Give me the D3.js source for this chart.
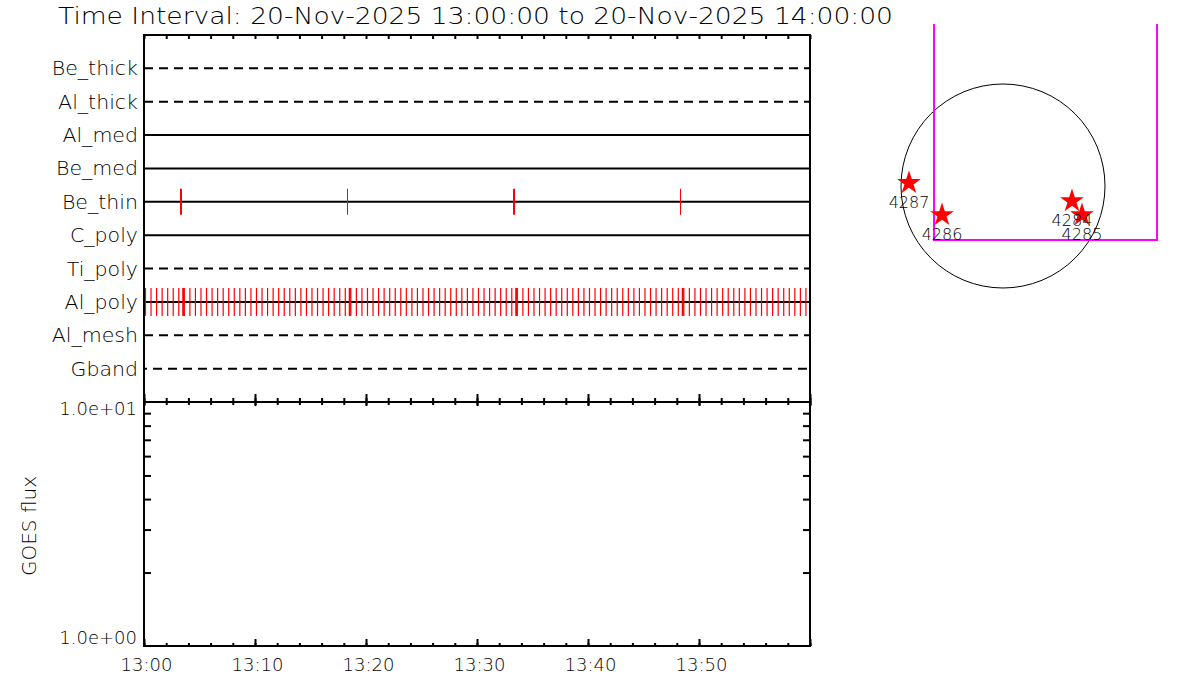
<!DOCTYPE html>
<html>
<head>
<meta charset="utf-8">
<script src="https://cdn.jsdelivr.net/npm/d3@7"></script>
<style>
  html, body { margin: 0; padding: 0; background: #fff; }
  svg { display: block; }
  text { font-family: "DejaVu Sans", sans-serif; font-weight: 200; fill: #000; }
</style>
</head>
<body>
<svg id="chart" width="1200" height="700"></svg>
<script>
// ---------------- data ----------------
const titleText = "Time Interval: 20-Nov-2025 13:00:00 to 20-Nov-2025 14:00:00";
const channels = ["Be_thick", "Al_thick", "Al_med", "Be_med", "Be_thin", "C_poly", "Ti_poly", "Al_poly", "Al_mesh", "Gband"];
const channelDashed = [true, true, false, false, false, false, true, false, true, true];
const channelDashOffset = [0, 0, 0, 0, 0, 0, 0, 0, 0, 6];

// exposure times, seconds after 13:00:00 UT
const beThinTimes = [200, 1100, 2000, 2900];
const beThinWidths = [2, 1, 2, 1];
const alPolyTimes = [
  8, 38, 68, 98, 128, 158, 188, 218, 248, 278,
  308, 338, 368, 398, 428, 458, 488, 518, 548, 578,
  608, 638, 668, 698, 728, 758, 788, 818, 848, 878,
  908, 938, 968, 998, 1028, 1058, 1088, 1118, 1148, 1178,
  1208, 1238, 1268, 1298, 1328, 1358, 1388, 1418, 1448, 1478,
  1508, 1538, 1568, 1598, 1628, 1658, 1688, 1718, 1748, 1778,
  1808, 1838, 1868, 1898, 1928, 1958, 1988, 2018, 2048, 2078,
  2108, 2138, 2168, 2198, 2228, 2258, 2288, 2318, 2348, 2378,
  2408, 2438, 2468, 2498, 2528, 2558, 2588, 2618, 2648, 2678,
  2708, 2738, 2768, 2798, 2828, 2858, 2888, 2918, 2948, 2978,
  3008, 3038, 3068, 3098, 3128, 3158, 3188, 3218, 3248, 3278,
  3308, 3338, 3368, 3398, 3428, 3458, 3488, 3518, 3548, 3578
];
const alPolyExtraTimes = [212, 1112, 2012, 2912];

const xTickLabels = ["13:00", "13:10", "13:20", "13:30", "13:40", "13:50"];
const goesRange = [1, 10];
const goesMinorTicks = [2, 3, 4, 5, 6, 7, 8, 9];
const goesLabel = "GOES flux";

// solar context map (arcsec, disk centre at 0,0)
const solarRadius = 970;
const fovBox = { x0: -656, x1: 1465, y0: -514, y1: 1541 };
const regionNames = ["4287", "4286", "4284", "4285"];
const regionX = [-894, -580, 656, 751];
const regionY = [29, -276, -143, -276];

// ---------------- layout ----------------
const svg = d3.select("#chart");
const L = 144, R = 810, T1 = 35, B1 = 402, B2 = 646;
const t0 = Date.UTC(2025, 10, 20, 13, 0, 0);
const tDate = s => new Date(t0 + s * 1000);
const x = d3.scaleUtc().domain([tDate(0), tDate(3600)]).range([L, R]);
const yRow = d3.scalePoint().domain(channels).range([T1, B1]).padding(1);
const yFlux = d3.scaleLog().domain(goesRange).range([B2, B1]);

const parseHM = d3.utcParse("%Y-%m-%d %H:%M");
const labelDates = xTickLabels.map(s => parseHM("2025-11-20 " + s));
const majorDates = d3.range(0, 3601, 600).map(tDate);
const minorDates = d3.range(0, 3601, 120).map(tDate);

// title
svg.append("text")
  .attr("x", 58).attr("y", 24)
  .attr("font-size", 23)
  .attr("textLength", 835).attr("lengthAdjust", "spacingAndGlyphs")
  .text(titleText);

// ---------- top panel: channel rows ----------
const rows = svg.append("g");
rows.selectAll("line.row").data(channels).join("line")
  .attr("x1", L).attr("x2", R)
  .attr("y1", d => yRow(d)).attr("y2", d => yRow(d))
  .attr("stroke", "#000").attr("stroke-width", 2)
  .attr("stroke-dasharray", (d, i) => channelDashed[i] ? "9,6" : null)
  .attr("stroke-dashoffset", (d, i) => channelDashOffset[i]);

rows.selectAll("text.rowlab").data(channels).join("text")
  .attr("x", 138).attr("y", d => yRow(d) + 7)
  .attr("text-anchor", "end").attr("font-size", 19)
  .attr("transform", d => `translate(${138 * -0.08},0) scale(1.08,1)`)
  .text(d => d);

// exposure ticks
svg.append("g").selectAll("line").data(alPolyTimes).join("line")
  .attr("x1", d => x(tDate(d))).attr("x2", d => x(tDate(d)))
  .attr("y1", yRow("Al_poly") - 14).attr("y2", yRow("Al_poly") + 14)
  .attr("stroke", "#ff0000").attr("stroke-width", 1.2);
svg.append("g").selectAll("line").data(alPolyExtraTimes).join("line")
  .attr("x1", d => x(tDate(d))).attr("x2", d => x(tDate(d)))
  .attr("y1", yRow("Al_poly") - 14).attr("y2", yRow("Al_poly") + 14)
  .attr("stroke", "#ff0000").attr("stroke-width", 2);
svg.append("g").selectAll("line").data(beThinTimes).join("line")
  .attr("x1", d => x(tDate(d))).attr("x2", d => x(tDate(d)))
  .attr("y1", yRow("Be_thin") - 13).attr("y2", yRow("Be_thin") + 13)
  .attr("stroke", "#ff0000").attr("stroke-width", (d, i) => beThinWidths[i]);

// ---------- axes ----------
function styleAxis(g) {
  g.select(".domain").remove();
  g.selectAll(".tick line").attr("stroke", "#000").attr("stroke-width", 2);
  g.selectAll(".tick text").remove();
}
// top panel top axis
svg.append("g").attr("transform", `translate(0,${T1})`)
  .call(d3.axisBottom(x).tickValues(minorDates).tickSize(4)).call(styleAxis);
// top panel bottom axis (pointing up)
svg.append("g").attr("transform", `translate(0,${B1})`)
  .call(d3.axisTop(x).tickValues(minorDates).tickSize(4)).call(styleAxis);
svg.append("g").attr("transform", `translate(0,${B1})`)
  .call(d3.axisTop(x).tickValues(majorDates).tickSize(8)).call(styleAxis);
// bottom panel top axis (pointing down)
svg.append("g").attr("transform", `translate(0,${B1})`)
  .call(d3.axisBottom(x).tickValues(minorDates).tickSize(3)).call(styleAxis);
svg.append("g").attr("transform", `translate(0,${B1})`)
  .call(d3.axisBottom(x).tickValues(majorDates).tickSize(4)).call(styleAxis);
// bottom panel bottom axis
svg.append("g").attr("transform", `translate(0,${B2})`)
  .call(d3.axisTop(x).tickValues(minorDates).tickSize(3)).call(styleAxis);
svg.append("g").attr("transform", `translate(0,${B2})`)
  .call(d3.axisTop(x).tickValues(majorDates).tickSize(7)).call(styleAxis);
// x labels
const xl = svg.append("g").attr("transform", `translate(0,${B2})`)
  .call(d3.axisBottom(x).tickValues(labelDates).tickSize(0).tickPadding(12)
    .tickFormat(d3.utcFormat("%H:%M")));
xl.select(".domain").remove();
xl.selectAll("text").attr("font-size", 18).attr("font-family", "DejaVu Sans")
  .attr("fill", "#000").attr("dx", 2);

// flux axes
svg.append("g").attr("transform", `translate(${L},0)`)
  .call(d3.axisRight(yFlux).tickValues(goesMinorTicks).tickSize(7)).call(styleAxis);
svg.append("g").attr("transform", `translate(${R},0)`)
  .call(d3.axisLeft(yFlux).tickValues(goesMinorTicks).tickSize(7)).call(styleAxis);
const fmtE = v => {
  const e = Math.floor(Math.log10(v) + 1e-9);
  return (v / Math.pow(10, e)).toFixed(1) + "e" + (e < 0 ? "-" : "+") + String(Math.abs(e)).padStart(2, "0");
};
const yl = svg.append("g").attr("transform", `translate(${L},0)`)
  .call(d3.axisLeft(yFlux).tickValues(goesRange).tickSize(0).tickPadding(7).tickFormat(fmtE));
yl.select(".domain").remove();
yl.selectAll("text").attr("font-size", 18).attr("font-family", "DejaVu Sans").attr("fill", "#000")
  .attr("dy", d => d === goesRange[1] ? "0.7em" : "-0.15em");

svg.append("text")
  .attr("transform", `translate(36,${(B1 + B2) / 2 + 2}) rotate(-90)`)
  .attr("text-anchor", "middle").attr("font-size", 19)
  .attr("textLength", 100).attr("lengthAdjust", "spacingAndGlyphs")
  .text(goesLabel);

// frames
svg.append("rect").attr("x", L).attr("y", T1).attr("width", R - L).attr("height", B1 - T1)
  .attr("fill", "none").attr("stroke", "#000").attr("stroke-width", 2);
svg.append("rect").attr("x", L).attr("y", B1).attr("width", R - L).attr("height", B2 - B1)
  .attr("fill", "none").attr("stroke", "#000").attr("stroke-width", 2);

// ---------- solar context map ----------
const sx = d3.scaleLinear().domain([0, solarRadius]).range([1003, 1003 + 102]);
const sy = d3.scaleLinear().domain([0, solarRadius]).range([186, 186 - 102]);
const map = svg.append("g");
map.append("circle").attr("cx", sx(0)).attr("cy", sy(0)).attr("r", sx(solarRadius) - sx(0))
  .attr("fill", "none").attr("stroke", "#000").attr("stroke-width", 1);
const boxPts = [[fovBox.x0, fovBox.y1], [fovBox.x0, fovBox.y0], [fovBox.x1, fovBox.y0], [fovBox.x1, fovBox.y1]];
map.append("path")
  .attr("d", d3.line().x(d => sx(d[0])).y(d => Math.max(24, sy(d[1])))(boxPts))
  .attr("fill", "none").attr("stroke", "#ff00ff").attr("stroke-width", 2);
const starSym = d3.symbol().type(d3.symbolStar).size(175);
map.selectAll("path.star").data(regionNames).join("path")
  .attr("class", "star")
  .attr("transform", (d, i) => `translate(${sx(regionX[i])},${sy(regionY[i])})`)
  .attr("d", starSym).attr("fill", "#ff0000");
map.selectAll("text.reg").data(regionNames).join("text")
  .attr("x", (d, i) => sx(regionX[i]))
  .attr("y", (d, i) => sy(regionY[i]) + 25)
  .attr("text-anchor", "middle").attr("font-size", 16)
  .text(d => d);
</script>
</body>
</html>
